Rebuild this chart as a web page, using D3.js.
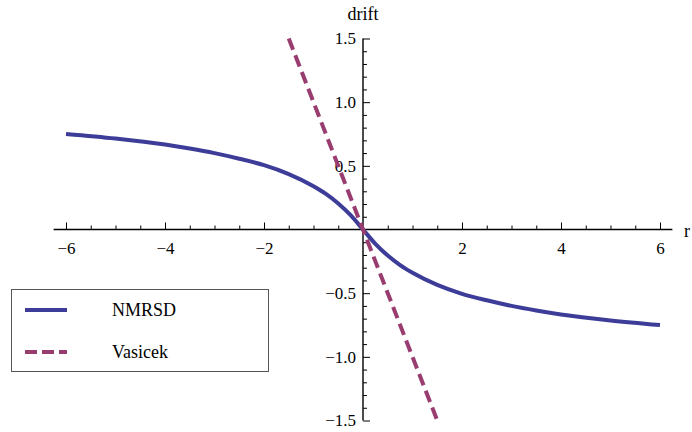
<!DOCTYPE html>
<html>
<head>
<meta charset="utf-8">
<script src="https://cdn.jsdelivr.net/npm/d3@7"></script>
<style>
  body { margin: 0; background: #fff; }
  svg { display: block; }
  .axis line { stroke: #000; }
</style>
</head>
<body>
<script>
// waarden
var rValues = [-6, -5, -4, -3.5, -3, -2.5, -2, -1.5, -1, -0.75, -0.5, -0.25, 0, 0.25, 0.5, 0.75, 1, 1.5, 2, 2.5, 3, 3.5, 4, 5, 6];
var nmrsdDrift = [0.750, 0.714, 0.667, 0.636, 0.600, 0.556, 0.505, 0.435, 0.340, 0.280, 0.205, 0.113, 0, -0.113, -0.205, -0.280, -0.340, -0.435, -0.505, -0.556, -0.600, -0.636, -0.667, -0.714, -0.750];
var vasicekR = [-1.5, 1.5];
var vasicekDrift = [1.5, -1.5];
var seriesNames = ["NMRSD", "Vasicek"];
var xTicks = [-6, -4, -2, 2, 4, 6];
var yTicks = [-1.5, -1.0, -0.5, 0.5, 1.0, 1.5];

var width = 692, height = 432;
var colors = ["#3d3d99", "#993d71"];
var serif = "'Liberation Serif', 'Times New Roman', Times, serif";

var svg = d3.select("body").append("svg").attr("width", width).attr("height", height)
  .attr("font-family", serif);

var x = d3.scaleLinear().domain([-6, 6]).range([66, 660]);
var y = d3.scaleLinear().domain([-1.5, 1.5]).range([420.5, 38.5]);

function styleAxis(g){
  g.select(".domain").remove();
  g.attr("font-family", serif).attr("font-size", 17);
  g.selectAll("text").attr("fill", "#000");
}

// x-as: lijn, kleine en grote streepjes
svg.append("line")
  .attr("x1", x(-6.25)).attr("x2", x(6.25))
  .attr("y1", y(0)).attr("y2", y(0))
  .attr("stroke", "#000").attr("stroke-width", 1.4);

var xMinor = d3.range(-6, 6.01, 0.5).filter(function(d){ return d % 2 !== 0 && d !== 0; });
svg.append("g").attr("class", "axis")
  .attr("transform", "translate(0," + y(0) + ")")
  .call(d3.axisBottom(x).tickValues(xMinor).tickSizeInner(-4).tickSizeOuter(0).tickFormat(""))
  .call(styleAxis);
svg.append("g").attr("class", "axis")
  .attr("transform", "translate(0," + y(0) + ")")
  .call(d3.axisBottom(x).tickValues(xTicks).tickSizeInner(-7).tickSizeOuter(0).tickPadding(12).tickFormat(d3.format("d")))
  .call(styleAxis);

// y-as
svg.append("line")
  .attr("x1", x(0)).attr("x2", x(0))
  .attr("y1", y(-1.5)).attr("y2", y(1.5))
  .attr("stroke", "#000").attr("stroke-width", 1.4);

var yMinor = d3.range(-15, 16).filter(function(d){ return d % 5 !== 0; }).map(function(d){ return d / 10; });
svg.append("g").attr("class", "axis")
  .attr("transform", "translate(" + x(0) + ",0)")
  .call(d3.axisLeft(y).tickValues(yMinor).tickSizeInner(-4).tickSizeOuter(0).tickFormat(""))
  .call(styleAxis);
svg.append("g").attr("class", "axis")
  .attr("transform", "translate(" + x(0) + ",0)")
  .call(d3.axisLeft(y).tickValues(yTicks).tickSizeInner(-7).tickSizeOuter(0).tickPadding(7).tickFormat(d3.format(".1f")))
  .call(styleAxis);

svg.append("text").attr("x", x(0)).attr("y", 20).attr("text-anchor", "middle")
  .attr("font-size", 18).text("drift");
svg.append("text").attr("x", 684).attr("y", 237)
  .attr("font-size", 18).text("r");

// lijnen
var nmrsd = rValues.map(function(r, i){ return {r: r, v: nmrsdDrift[i]}; });
var vasicek = vasicekR.map(function(r, i){ return {r: r, v: vasicekDrift[i]}; });

var line = d3.line()
  .x(function(d){ return x(d.r); })
  .y(function(d){ return y(d.v); })
  .curve(d3.curveMonotoneX);

svg.append("path").attr("d", line(nmrsd))
  .attr("fill", "none").attr("stroke", colors[0]).attr("stroke-width", 4);
svg.append("path").attr("d", d3.line().x(function(d){ return x(d.r); }).y(function(d){ return y(d.v); })(vasicek))
  .attr("fill", "none").attr("stroke", colors[1]).attr("stroke-width", 4)
  .attr("stroke-dasharray", "12,6");

// legenda
var legend = svg.append("g");
legend.append("rect").attr("x", 11.5).attr("y", 289.5).attr("width", 257).attr("height", 82)
  .attr("fill", "#fff").attr("stroke", "#555").attr("stroke-width", 1);
seriesNames.forEach(function(name, i){
  var ly = 310 + i * 42;
  legend.append("line").attr("x1", 25).attr("x2", 67).attr("y1", ly).attr("y2", ly)
    .attr("stroke", colors[i]).attr("stroke-width", 4)
    .attr("stroke-dasharray", i === 1 ? "12,5" : null);
  legend.append("text").attr("x", 112).attr("y", ly + 6)
    .attr("font-size", 18).text(name);
});
</script>
</body>
</html>
